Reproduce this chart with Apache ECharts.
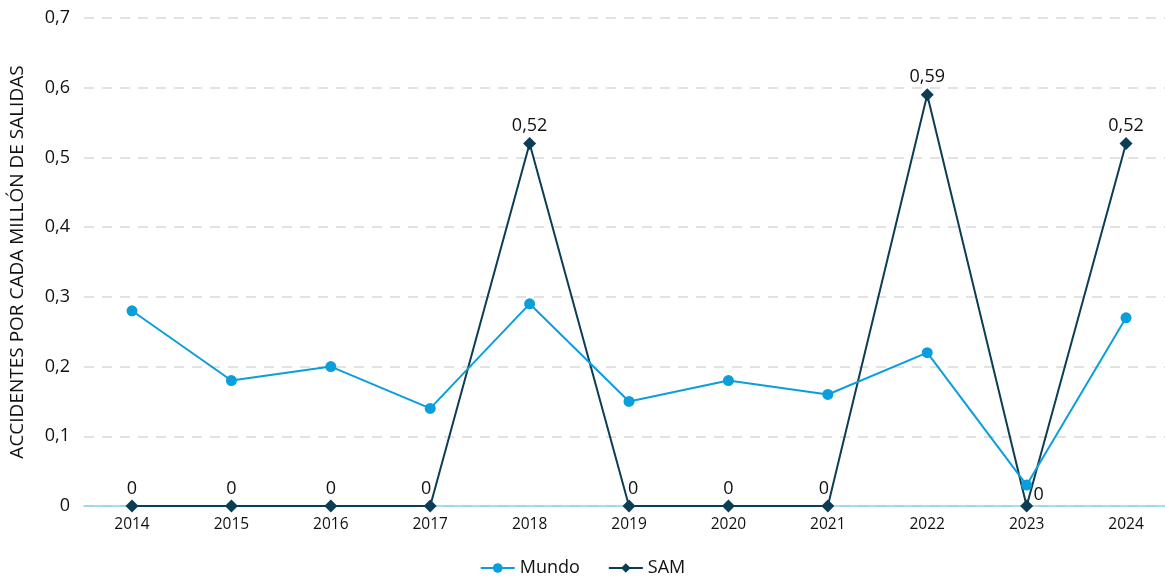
<!DOCTYPE html>
<html>
<head>
<meta charset="utf-8">
<script src="https://cdn.jsdelivr.net/npm/echarts@6/dist/echarts.min.js"></script>
<style>html,body{margin:0;padding:0;background:#fff}#c{width:1165px;height:578px}</style>
</head>
<body>
<div id="c"></div>
<script>
const years = [2014, 2015, 2016, 2017, 2018, 2019, 2020, 2021, 2022, 2023, 2024];
const mundo = [0.28, 0.18, 0.20, 0.14, 0.29, 0.15, 0.18, 0.16, 0.22, 0.03, 0.27];
const sam = [0, 0, 0, 0, 0.52, 0, 0, 0, 0.59, 0, 0.52];
const yTicks = [0, 0.1, 0.2, 0.3, 0.4, 0.5, 0.6, 0.7];

const fmt = v => String(Math.round(v * 100) / 100).replace('.', ',');
// label placement per SAM point (style only)
const samLabelOffset = {2017: [-4, 0], 2019: [4, 0], 2021: [-4, 0], 2023: [12, 6]};

const chart = echarts.init(document.getElementById('c'));
chart.setOption({
  animation: false,
  textStyle: {fontFamily: 'Open Sans, Noto Sans, sans-serif'},
  grid: {left: 84, right: 0, top: 18, bottom: 72},
  legend: {
    data: ['Mundo', 'SAM'],
    top: 554,
    left: 'center',
    itemGap: 28,
    itemWidth: 34,
    itemHeight: 12,
    textStyle: {fontSize: 18, color: '#111', fontFamily: 'Open Sans, Noto Sans, sans-serif'}
  },
  xAxis: {
    type: 'value',
    min: 2013.517,
    max: 2024.392,
    splitLine: {show: false},
    axisLine: {show: true, onZero: true, lineStyle: {color: '#8fd3e2', width: 1.5}},
    axisTick: {show: false},
    axisLabel: {
      customValues: years,
      fontSize: 15.5,
      color: '#111',
      margin: 11,
      formatter: v => String(v)
    }
  },
  yAxis: {
    type: 'value',
    min: 0,
    max: 0.7,
    interval: 0.1,
    name: 'ACCIDENTES POR CADA MILLÓN DE SALIDAS',
    nameLocation: 'middle',
    nameGap: 57,
    nameTextStyle: {fontSize: 19, color: '#111'},
    axisLine: {show: false},
    axisTick: {show: false},
    axisLabel: {fontSize: 18, color: '#111', margin: 14, formatter: v => fmt(v)},
    splitLine: {lineStyle: {color: '#d9d9d9', type: [10, 8], width: 1.5}}
  },
  series: [
    {
      name: 'SAM',
      type: 'line',
      data: years.map((y, i) => {
        const off = samLabelOffset[y] || [0, 0];
        return {value: [y, sam[i]], label: {offset: off}};
      }),
      symbol: 'diamond',
      symbolSize: 13,
      itemStyle: {color: '#0b3d55'},
      lineStyle: {color: '#0b3d55', width: 2},
      label: {
        show: true,
        position: 'top',
        distance: 2,
        fontSize: 18,
        color: '#111',
        formatter: p => fmt(p.value[1])
      },
      z: 2
    },
    {
      name: 'Mundo',
      type: 'line',
      data: years.map((y, i) => [y, mundo[i]]),
      symbol: 'circle',
      symbolSize: 11,
      itemStyle: {color: '#0a9fda'},
      lineStyle: {color: '#0a9fda', width: 2},
      z: 3
    }
  ]
});
</script>
</body>
</html>
